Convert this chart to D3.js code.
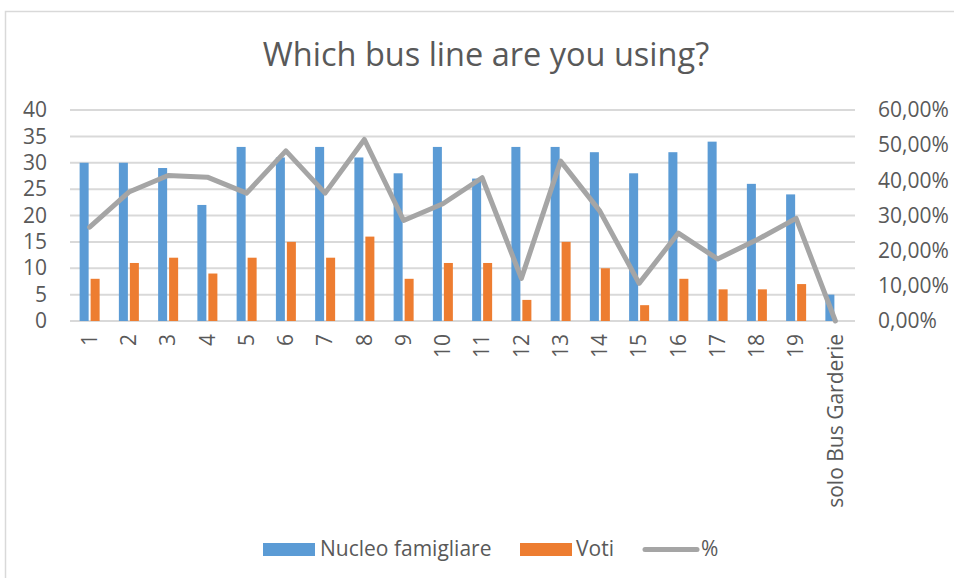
<!DOCTYPE html>
<html>
<head>
<meta charset="utf-8">
<script src="https://cdn.jsdelivr.net/npm/d3@7"></script>
<style>
  body { margin: 0; background: #fff; }
  text { font-family: "Open Sans", sans-serif; fill: #595959; }
</style>
</head>
<body>
<div id="chart"></div>
<script>
const categories = ["1","2","3","4","5","6","7","8","9","10","11","12","13","14","15","16","17","18","19","solo Bus Garderie"]
const nucleo = [30,30,29,22,33,31,33,31,28,33,27,33,33,32,28,32,34,26,24,5]
const voti = [8,11,12,9,12,15,12,16,8,11,11,4,15,10,3,8,6,6,7,0]
const percent = [0.2667,0.3667,0.4138,0.4091,0.3636,0.4839,0.3636,0.5161,0.2857,0.3333,0.4074,0.1212,0.4545,0.3125,0.1071,0.25,0.1765,0.2308,0.2917,0]
const leftTicks = [0,5,10,15,20,25,30,35,40]
const rightTicks = [0,0.1,0.2,0.3,0.4,0.5,0.6]

const W = 954, H = 578
const M = { LEFT: 70, RIGHT: 855, TOP: 110, BOTTOM: 321 }
const FS = "21px"

const svg = d3.select("#chart").append("svg")
	.attr("width", W)
	.attr("height", H)

// chart frame
svg.append("rect")
	.attr("x", 5.5).attr("y", 11.5)
	.attr("width", 960).attr("height", 580)
	.attr("fill", "none")
	.attr("stroke", "#d9d9d9")
	.attr("stroke-width", 1.5)

svg.append("text")
	.attr("x", 486).attr("y", 66)
	.attr("text-anchor", "middle")
	.style("font-size", "32.5px")
	.text("Which bus line are you using?")

const x = d3.scaleBand().domain(categories).range([M.LEFT, M.RIGHT])
const xSub = d3.scaleBand().domain(["n", "v"]).range([0, x.bandwidth()])
	.paddingInner(0.18).paddingOuter(0.875)
const y = d3.scaleLinear().domain([0, 40]).range([M.BOTTOM, M.TOP])
const y2 = d3.scaleLinear().domain([0, 0.6]).range([M.BOTTOM, M.TOP])

// gridlines
svg.append("g").selectAll("line")
	.data(leftTicks)
	.join("line")
		.attr("x1", M.LEFT).attr("x2", M.RIGHT)
		.attr("y1", d => y(d)).attr("y2", d => y(d))
		.attr("stroke", "#d9d9d9")
		.attr("stroke-width", 2)

// left axis
const yAxis = d3.axisLeft(y).tickValues(leftTicks).tickSize(0).tickPadding(0)
const gy = svg.append("g").attr("transform", `translate(${M.LEFT - 23},0)`).call(yAxis)
gy.select(".domain").remove()
gy.selectAll("text").style("font-size", FS).style("fill", "#595959").attr("font-family", null)

// right axis
const fmtPct = v => d3.format(".2f")(v * 100).replace(".", ",") + "%"
const y2Axis = d3.axisRight(y2).tickValues(rightTicks).tickSize(0).tickPadding(0).tickFormat(fmtPct)
const gy2 = svg.append("g").attr("transform", `translate(${M.RIGHT + 23},0)`).call(y2Axis)
gy2.select(".domain").remove()
gy2.selectAll("text").style("font-size", FS).style("fill", "#595959").attr("font-family", null)

// bars
svg.append("g").selectAll("rect")
	.data(categories)
	.join("rect")
		.attr("x", d => x(d) + xSub("n"))
		.attr("y", (d, i) => y(nucleo[i]))
		.attr("width", xSub.bandwidth())
		.attr("height", (d, i) => y(0) - y(nucleo[i]))
		.attr("fill", "#5b9bd5")

svg.append("g").selectAll("rect")
	.data(categories)
	.join("rect")
		.attr("x", d => x(d) + xSub("v"))
		.attr("y", (d, i) => y(voti[i]))
		.attr("width", xSub.bandwidth())
		.attr("height", (d, i) => y(0) - y(voti[i]))
		.attr("fill", "#ed7d31")

// line
const line = d3.line()
	.x((d, i) => x(categories[i]) + x.bandwidth() / 2)
	.y(d => y2(d))
svg.append("path")
	.datum(percent)
	.attr("d", line)
	.attr("fill", "none")
	.attr("stroke", "#a5a5a5")
	.attr("stroke-width", 5)
	.attr("stroke-linejoin", "round")
	.attr("stroke-linecap", "round")

// x labels
const xAxis = d3.axisBottom(x).tickSize(0).tickPadding(0)
const gx = svg.append("g").attr("transform", `translate(0,${M.BOTTOM})`).call(xAxis)
gx.select(".domain").remove()
gx.selectAll("text")
	.style("font-size", FS).style("fill", "#595959").attr("font-family", null)
	.attr("text-anchor", "end")
	.attr("transform", "rotate(-90)")
	.attr("x", -13).attr("y", 0).attr("dy", "0.35em")

// legend
const legend = svg.append("g")
legend.append("rect").attr("x", 263).attr("y", 543).attr("width", 52).attr("height", 13).attr("fill", "#5b9bd5")
legend.append("text").attr("x", 320).attr("y", 556).style("font-size", FS).text("Nucleo famigliare")
legend.append("rect").attr("x", 520).attr("y", 543).attr("width", 52).attr("height", 13).attr("fill", "#ed7d31")
legend.append("text").attr("x", 576).attr("y", 556).style("font-size", FS).text("Voti")
legend.append("line").attr("x1", 645).attr("x2", 697).attr("y1", 549.5).attr("y2", 549.5)
	.attr("stroke", "#a5a5a5").attr("stroke-width", 5).attr("stroke-linecap", "round")
legend.append("text").attr("x", 701).attr("y", 556).style("font-size", FS).text("%")
</script>
</body>
</html>
